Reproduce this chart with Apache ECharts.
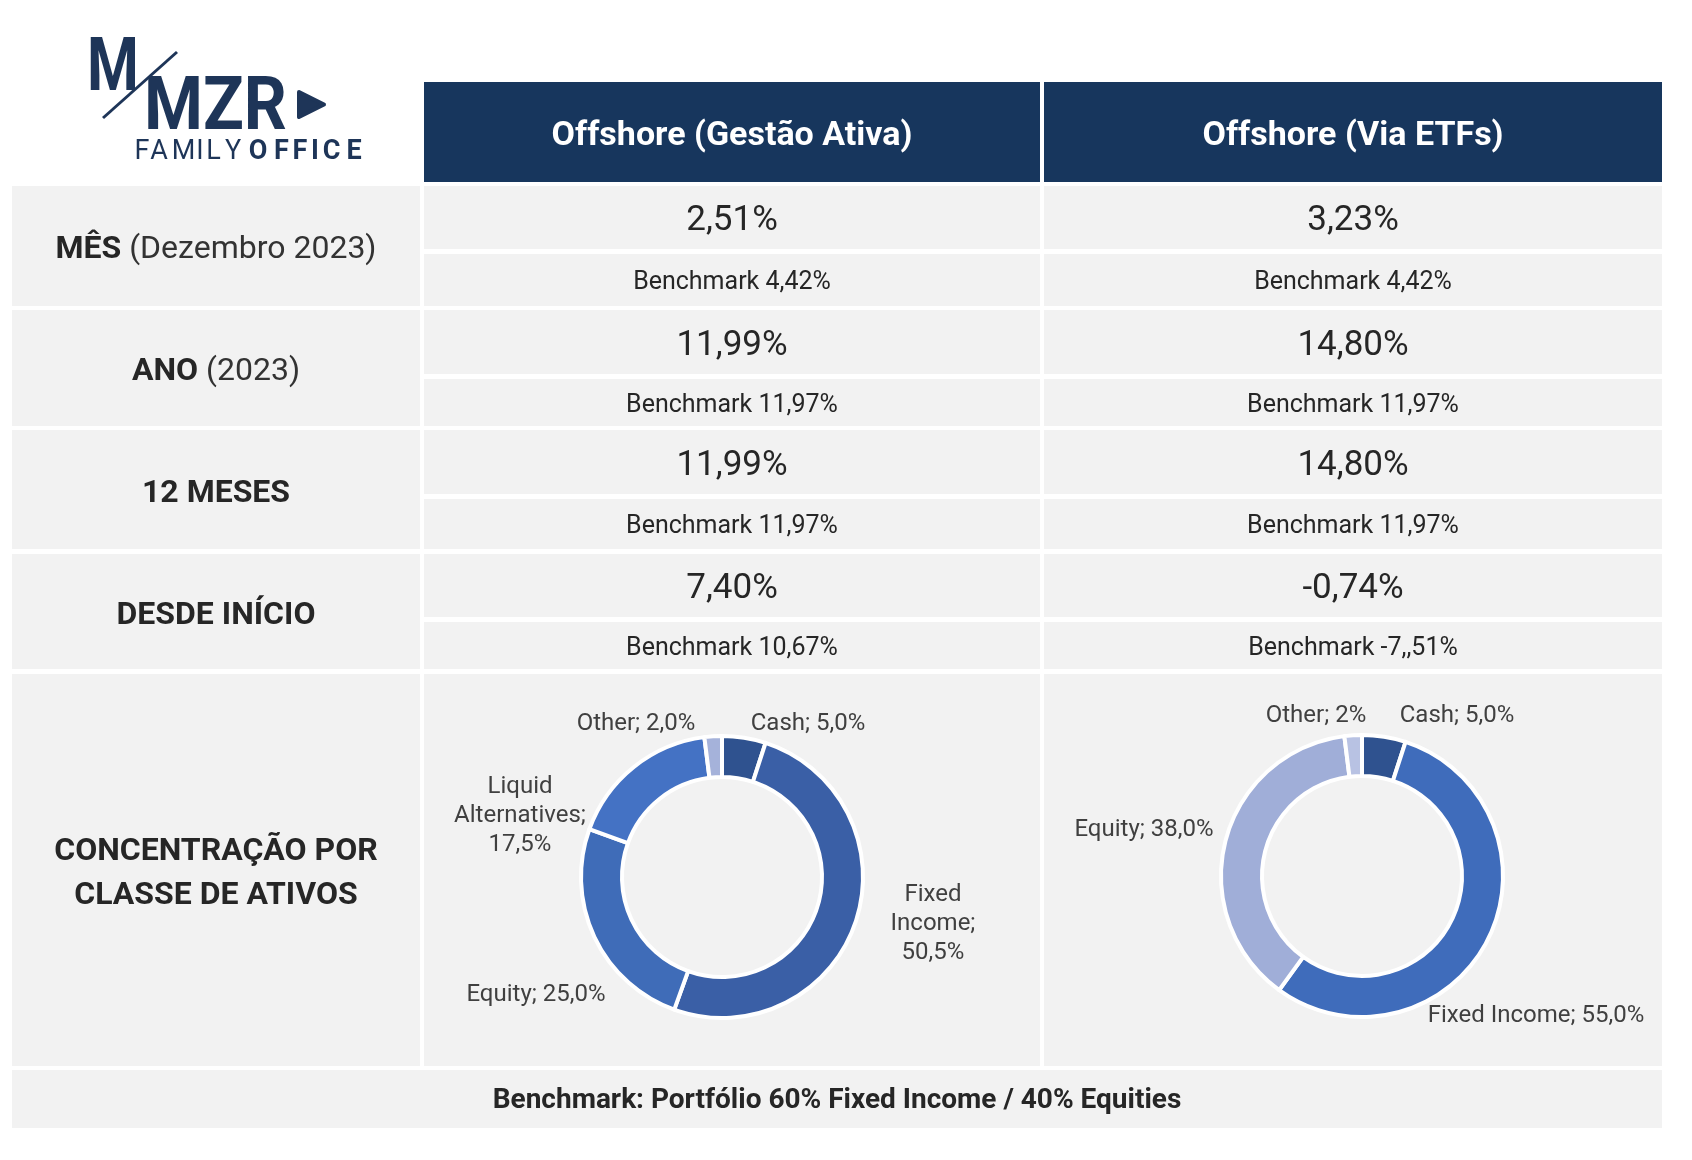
<!DOCTYPE html>
<html>
<head>
<meta charset="utf-8">
<script src="https://cdn.jsdelivr.net/npm/echarts@6/dist/echarts.min.js"></script>
<style>
  html, body { margin: 0; background: #fff; }
  #chart { width: 1692px; height: 1160px; }
</style>
</head>
<body>
<div id="chart"></div>
<script>
// table content
const columns = ['Offshore (Gestão Ativa)', 'Offshore (Via ETFs)'];
const periodBold = ['MÊS', 'ANO', '12 MESES', 'DESDE INÍCIO'];
const periodExtra = [' (Dezembro 2023)', ' (2023)', '', ''];
const ativaReturn = ['2,51%', '11,99%', '11,99%', '7,40%'];
const ativaBench = ['4,42%', '11,97%', '11,97%', '10,67%'];
const etfReturn = ['3,23%', '14,80%', '14,80%', '-0,74%'];
const etfBench = ['4,42%', '11,97%', '11,97%', '-7,,51%'];
const concLabel = 'CONCENTRAÇÃO POR\nCLASSE DE ATIVOS';
const footer = 'Benchmark: Portfólio 60% Fixed Income / 40% Equities';

// asset class donuts
const ativaClasses = ['Cash', 'Fixed\nIncome', 'Equity', 'Liquid\nAlternatives', 'Other'];
const ativaWeights = [5.0, 50.5, 25.0, 17.5, 2.0];
const ativaDecimals = [1, 1, 1, 1, 1];
const etfClasses = ['Cash', 'Fixed Income', 'Equity', 'Other'];
const etfWeights = [5.0, 55.0, 38.0, 2];
const etfDecimals = [1, 1, 1, 0];

const ativaColors = ['#2f528f', '#3a5fa6', '#3f6cb8', '#4472c4', '#a5b2da'];
const etfColors = ['#2f528f', '#3f6cbb', '#a0aed8', '#b8c2e3'];

const NAVY = '#17365d';
const CELL = '#f2f2f2';
const TXT = '#262626';
const FONT = 'Roboto';

// layout
const colX = [[12, 420], [424, 1040], [1044, 1662]];
const rowTop = [186, 310, 430, 554];
const rowMid = [249, 374, 494, 617];
const rowBot = [306, 426, 549, 669];

const g = [];
const rect = (x0, y0, x1, y1, fill) =>
  g.push({ type: 'rect', silent: true, shape: { x: x0, y: y0, width: x1 - x0, height: y1 - y0 }, style: { fill } });
// small downward nudge so the glyphs sit optically centred like the original
const text = (t, x, y, size, weight, fill, extra) =>
  g.push({ type: 'text', silent: true, z: 10, style: Object.assign({
    text: t, x, y: y + Math.round(size * 0.12), fill: fill || TXT, fontSize: size, fontWeight: weight || 'normal',
    fontFamily: FONT, align: 'center', verticalAlign: 'middle' }, extra || {}) });
const cx = i => (colX[i][0] + colX[i][1]) / 2;

// header
columns.forEach((c, i) => {
  rect(colX[i + 1][0], 82, colX[i + 1][1], 182, NAVY);
  text(c, cx(i + 1), 132, 34, 'bold', '#fff');
});

// period rows
periodBold.forEach((p, r) => {
  rect(colX[0][0], rowTop[r], colX[0][1], rowBot[r], CELL);
  text('{b|' + p + '}{n|' + periodExtra[r] + '}', cx(0), (rowTop[r] + rowBot[r]) / 2, 32, 'bold', TXT, {
    rich: {
      b: { fontSize: 32, fontWeight: 'bold', fontFamily: FONT, fill: TXT },
      n: { fontSize: 32, fontWeight: 'normal', fontFamily: FONT, fill: '#333' }
    }
  });
  [[ativaReturn, ativaBench], [etfReturn, etfBench]].forEach((pair, i) => {
    const c = colX[i + 1];
    rect(c[0], rowTop[r], c[1], rowMid[r], CELL);
    rect(c[0], rowMid[r] + 5, c[1], rowBot[r], CELL);
    text(pair[0][r], cx(i + 1), (rowTop[r] + rowMid[r]) / 2, 35, 'normal');
    text('Benchmark ' + pair[1][r], cx(i + 1), (rowMid[r] + 5 + rowBot[r]) / 2, 25, 'normal');
  });
});

// concentration row + footer
colX.forEach(c => rect(c[0], 674, c[1], 1066, CELL));
text(concLabel, cx(0), 870, 32, 'bold', TXT, { lineHeight: 44 });
rect(12, 1070, 1662, 1128, CELL);
text(footer, 837, 1098, 28, 'bold');

// logo
const LOGO = '#1e3558';
g.push({ type: 'text', silent: true, style: { text: 'M', x: 87, y: 108, fill: LOGO, fontSize: 74, fontWeight: 'bold', fontFamily: FONT, align: 'left', verticalAlign: 'bottom' }, scaleX: 0.8, originX: 87 });
g.push({ type: 'line', silent: true, shape: { x1: 103, y1: 118, x2: 177, y2: 52 }, style: { stroke: LOGO, lineWidth: 3 } });
g.push({ type: 'text', silent: true, style: { text: 'MZR', x: 144, y: 147, fill: LOGO, fontSize: 74, fontWeight: 'bold', fontFamily: FONT, align: 'left', verticalAlign: 'bottom' }, scaleX: 0.91, originX: 144 });
g.push({ type: 'polygon', silent: true, shape: { points: [[299, 92], [324, 104.5], [299, 117]] }, style: { fill: LOGO, stroke: LOGO, lineWidth: 4, lineJoin: 'round' } });
const logoLetters = 'FAMILYOFFICE'.split('');
const logoX = [142, 159, 183.5, 200, 213.5, 233, 258, 281.5, 300, 315, 331.5, 354];
logoLetters.forEach((ch, i) => text(ch, logoX[i], 149, 27, i < 6 ? 'normal' : 'bold', LOGO));

// donut labels
const fmt = (v, d) => v.toFixed(d).replace('.', ',') + '%';
const mkLabel = (name, v, d) => name + ';' + (name.indexOf('\n') >= 0 ? '\n' : ' ') + fmt(v, d);
const ativaLabelPos = [[808, 724], [933, 924], [536, 995], [520, 816], [636, 724]];
const etfLabelPos = [[1457, 716], [1536, 1016], [1144, 830], [1316, 716]];

const donut = (names, weights, decimals, colors, center, labelPos) => ({
  type: 'pie',
  center: center,
  radius: [100, 141],
  startAngle: 90,
  clockwise: true,
  silent: true,
  avoidLabelOverlap: false,
  itemStyle: { borderColor: '#fff', borderWidth: 4 },
  label: {
    show: true,
    position: 'outside',
    color: '#404040',
    fontSize: 24,
    fontFamily: FONT,
    lineHeight: 29,
    align: 'center',
    formatter: p => mkLabel(names[p.dataIndex], weights[p.dataIndex], decimals[p.dataIndex])
  },
  labelLine: { show: false },
  labelLayout: p => ({ x: labelPos[p.dataIndex][0], y: labelPos[p.dataIndex][1], align: 'center', verticalAlign: 'middle' }),
  emphasis: { disabled: true },
  data: weights.map((w, i) => ({ name: names[i], value: w, itemStyle: { color: colors[i] } }))
});

const chart = echarts.init(document.getElementById('chart'));
chart.setOption({
  backgroundColor: '#fff',
  animation: false,
  graphic: { elements: g },
  series: [
    donut(ativaClasses, ativaWeights, ativaDecimals, ativaColors, [722, 877], ativaLabelPos),
    donut(etfClasses, etfWeights, etfDecimals, etfColors, [1362, 876], etfLabelPos)
  ]
});
</script>
</body>
</html>
